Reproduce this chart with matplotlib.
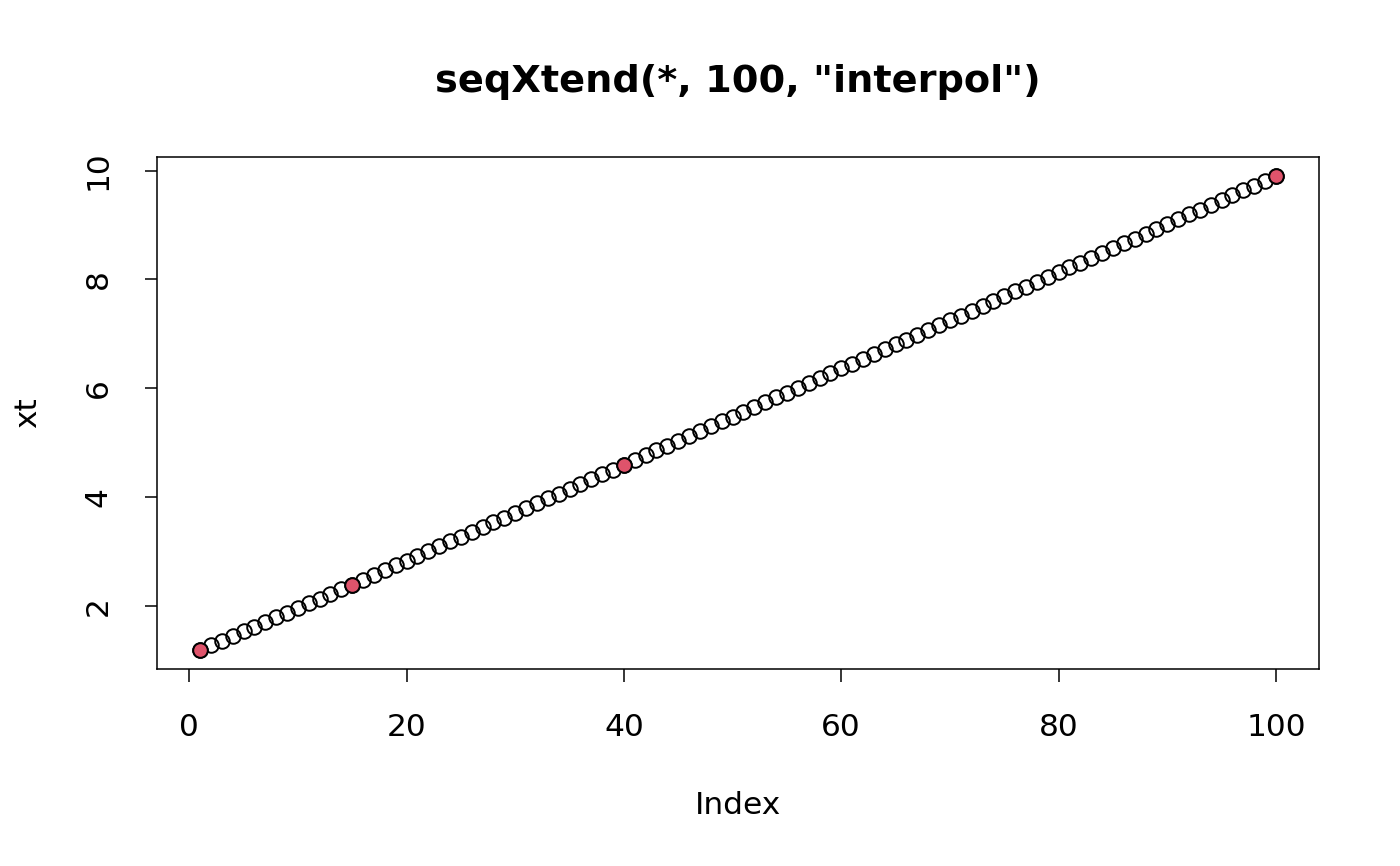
import numpy as np
import matplotlib.pyplot as plt

# interpolated sequence (index 1..100)
xt = [1.2, 1.286, 1.371, 1.457, 1.543, 1.629, 1.714, 1.8, 1.886, 1.971,
      2.057, 2.143, 2.229, 2.314, 2.4,
      2.488, 2.576, 2.664, 2.752, 2.84, 2.928, 3.016, 3.104, 3.192, 3.28,
      3.368, 3.456, 3.544, 3.632, 3.72, 3.808, 3.896, 3.984, 4.072, 4.16,
      4.248, 4.336, 4.424, 4.512, 4.6,
      4.688, 4.777, 4.865, 4.953, 5.042, 5.13, 5.218, 5.307, 5.395, 5.483,
      5.572, 5.66, 5.748, 5.837, 5.925, 6.013, 6.102, 6.19, 6.278, 6.367,
      6.455, 6.543, 6.632, 6.72, 6.808, 6.897, 6.985, 7.073, 7.162, 7.25,
      7.338, 7.427, 7.515, 7.603, 7.692, 7.78, 7.868, 7.957, 8.045, 8.133,
      8.222, 8.31, 8.398, 8.487, 8.575, 8.663, 8.752, 8.84, 8.928, 9.017,
      9.105, 9.193, 9.282, 9.37, 9.458, 9.547, 9.635, 9.723, 9.812, 9.9]
# original knots (highlighted)
knot_idx = [1, 15, 40, 100]
knot_val = [1.2, 2.4, 4.6, 9.9]

xticks = [0, 20, 40, 60, 80, 100]
yticks = [2, 4, 6, 8, 10]

plt.rcParams['font.family'] = 'DejaVu Sans'
W, H = 1400, 866
fig = plt.figure(figsize=(W / 100, H / 100), dpi=100)
ax = fig.add_axes([157 / W, 1 - 669 / H, (1319 - 157) / W, (669 - 157) / H])

idx = np.arange(1, len(xt) + 1)
ax.plot(idx, xt, 'o', ms=10.5, mfc='none', mec='black', mew=1.4, ls='none')
ax.plot(knot_idx, knot_val, 'o', ms=10.5, mfc='#DF536B', mec='black', mew=1.4, ls='none')

ax.set_xlim(1 - 0.04 * 99, 100 + 0.04 * 99)
ax.set_ylim(1.2 - 0.04 * 8.7, 9.9 + 0.04 * 8.7)
ax.set_xticks(xticks)
ax.set_yticks(yticks)
ax.tick_params(labelsize=22.5, length=9, width=1.1, pad=23)
for lab in ax.get_yticklabels():
    lab.set_rotation(90)
    lab.set_va('center')
for sp in ax.spines.values():
    sp.set_linewidth(1.1)

fig.text(738 / W, 1 - 82 / H, 'seqXtend(*, 100, "interpol")', ha='center', va='center',
         fontsize=27.5, fontweight='bold')
fig.text(738 / W, 1 - 805 / H, 'Index', ha='center', va='center', fontsize=22.5)
fig.text(28 / W, 1 - 413 / H, 'xt', ha='center', va='center', fontsize=22.5, rotation=90)

fig.savefig('out.png', dpi=100)
